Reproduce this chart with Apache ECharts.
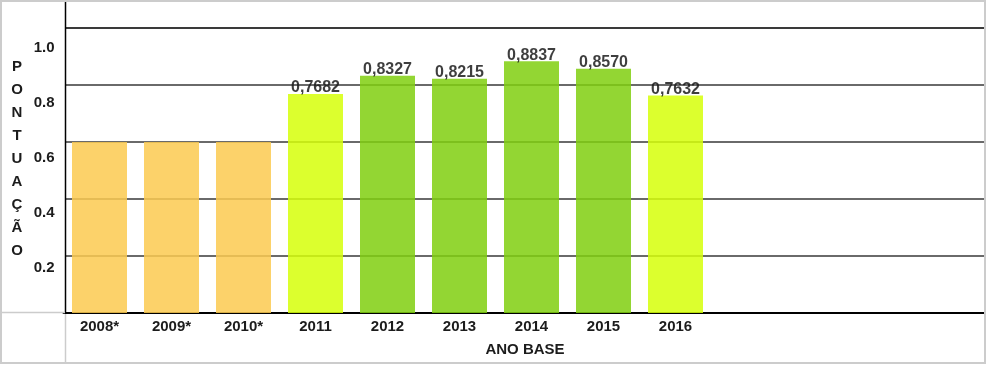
<!DOCTYPE html>
<html><head><meta charset="utf-8">
<script src="https://cdn.jsdelivr.net/npm/echarts@6/dist/echarts.min.js"></script>
<style>html,body{margin:0;padding:0;background:#fff}#c{width:987px;height:366px}</style>
</head><body><div id="c"></div>
<script>
const years = ['2008*', '2009*', '2010*', '2011', '2012', '2013', '2014', '2015', '2016'];
const emptySlots = ['', '', '', ''];
const scores = [0.6, 0.6, 0.6, 0.7682, 0.8327, 0.8215, 0.8837, 0.8570, 0.7632];
const scoreLabels = ['', '', '', '0,7682', '0,8327', '0,8215', '0,8837', '0,8570', '0,7632'];
const yTicks = [0.2, 0.4, 0.6, 0.8, 1.0];
const yAxisTitle = 'PONTUAÇÃO';
const xAxisTitle = 'ANO BASE';

const FONT = 'Arial, "Liberation Sans", sans-serif';
const TXT = '#1c1c1c';
const chart = echarts.init(document.getElementById('c'), null, {renderer: 'canvas'});
chart.setOption({
  animation: false,
  backgroundColor: '#fff',
  grid: [
    {left: 63.5, top: 28, width: 936, height: 285, outerBoundsMode: 'none', containLabel: false},
    {left: 63.5, top: 47.5, width: 10, height: 275.5, outerBoundsMode: 'none', containLabel: false}
  ],
  xAxis: [
    {
      type: 'category', gridIndex: 0,
      data: years.concat(emptySlots),
      axisTick: {show: false},
      axisLine: {lineStyle: {color: '#000', width: 2}},
      axisLabel: {margin: 6, fontFamily: FONT, fontWeight: 'bold', fontSize: 15, color: TXT},
      splitLine: {show: false}
    },
    {type: 'value', gridIndex: 1, show: false}
  ],
  yAxis: [
    {
      type: 'value', gridIndex: 0, min: 0, max: 1, interval: 0.2,
      axisLine: {show: false}, axisTick: {show: false},
      axisLabel: {show: false},
      splitLine: {show: true, lineStyle: {width: 2,
        color: ['rgba(0,0,0,0)', '#6a6a6a', '#6a6a6a', '#6a6a6a', '#6a6a6a', '#3a3a3a']}}
    },
    {
      type: 'value', gridIndex: 1, min: 0, max: 1, interval: 0.2,
      axisLine: {show: false}, axisTick: {show: false}, splitLine: {show: false},
      axisLabel: {
        margin: 9, fontFamily: FONT, fontWeight: 'bold', fontSize: 15, color: TXT,
        formatter: v => yTicks.some(t => Math.abs(t - v) < 1e-6) ? v.toFixed(1) : ''
      }
    }
  ],
  visualMap: {
    type: 'piecewise', show: false, seriesIndex: 0, dimension: 1,
    pieces: [
      {lt: 0.7, color: '#FCCA50'},
      {gte: 0.7, lt: 0.8, color: '#D6FF09'},
      {gte: 0.8, color: '#80CF0F'}
    ]
  },
  series: [{
    type: 'bar', xAxisIndex: 0, yAxisIndex: 0,
    data: scores, barWidth: 55,
    itemStyle: {opacity: 0.85},
    label: {
      show: true, position: 'top', distance: -2,
      fontFamily: FONT, fontWeight: 'bold', fontSize: 16, color: TXT,
      formatter: p => scoreLabels[p.dataIndex]
    }
  }],
  graphic: [
    {type: 'rect', z: 100, shape: {x: 985, y: 0, width: 10, height: 366}, style: {fill: '#fff'}},
    {type: 'rect', z: 100, shape: {x: 61, y: 2, width: 4, height: 308}, style: {fill: '#fff'}},
    {type: 'rect', z: 101, shape: {x: 1, y: 1, width: 984, height: 362}, style: {fill: 'none', stroke: '#cccccc', lineWidth: 2}},
    {type: 'line', z: 101, shape: {x1: 65.5, y1: 2, x2: 65.5, y2: 313}, style: {stroke: '#000', lineWidth: 1.5}},
    {type: 'line', z: 101, shape: {x1: 65.5, y1: 314, x2: 65.5, y2: 363}, style: {stroke: '#cccccc', lineWidth: 1.5}},
    {type: 'line', z: 101, shape: {x1: 2, y1: 312.5, x2: 65, y2: 312.5}, style: {stroke: '#cccccc', lineWidth: 1.5}},
    {type: 'text', z: 101, x: 17, y: 55, style: {
      text: yAxisTitle.split('').join('\n'), font: 'bold 15px ' + FONT, fill: TXT,
      textAlign: 'center', textVerticalAlign: 'top', lineHeight: 23}},
    {type: 'text', z: 101, x: 525, y: 350, style: {
      text: xAxisTitle, font: 'bold 15px ' + FONT, fill: TXT,
      textAlign: 'center', textVerticalAlign: 'middle'}}
  ]
});
</script>
</body></html>
